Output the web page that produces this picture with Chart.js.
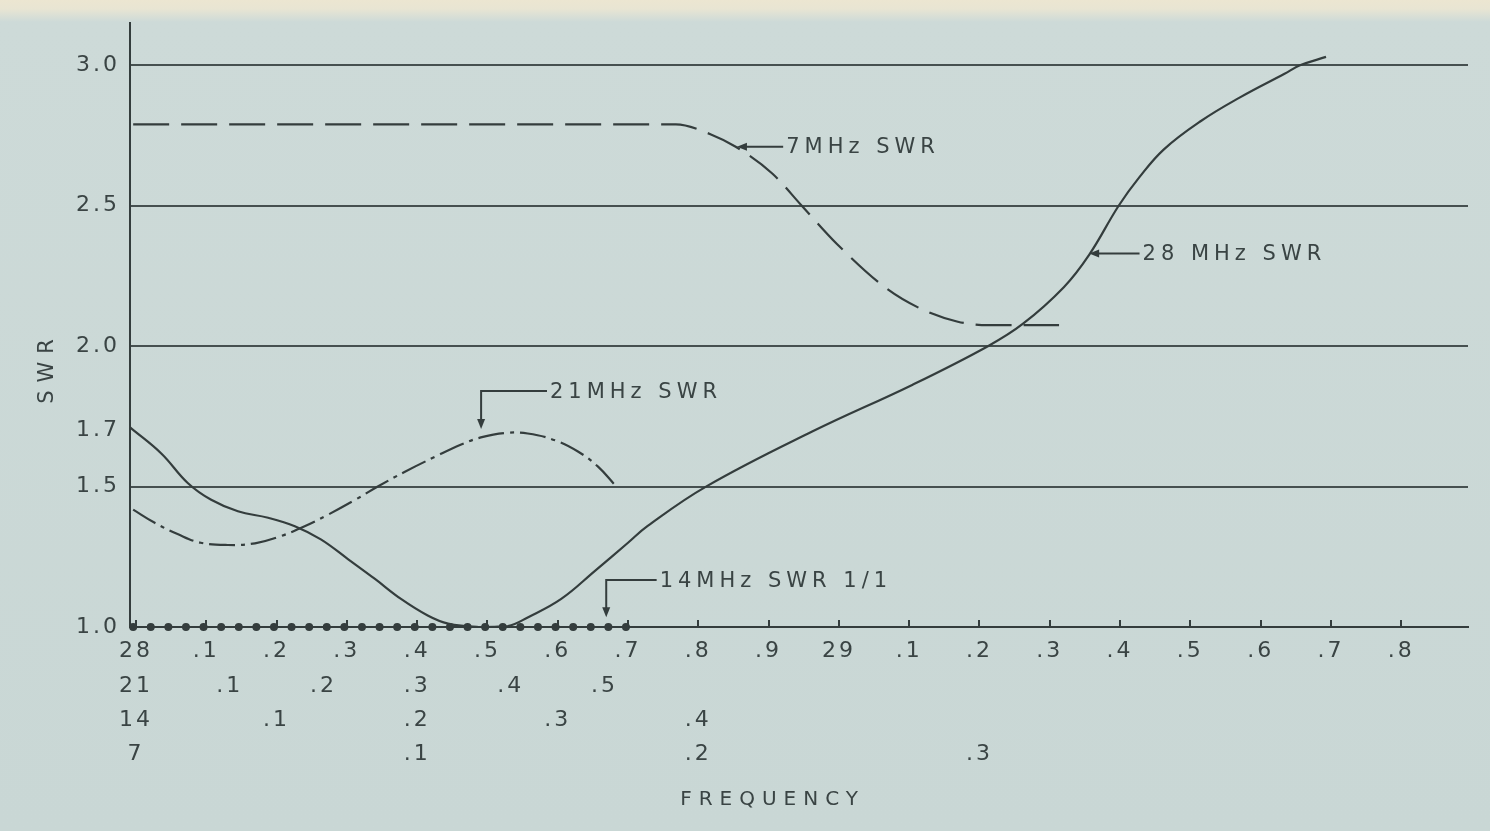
<!DOCTYPE html>
<html>
<head>
<meta charset="utf-8">
<script src="https://cdn.jsdelivr.net/npm/chart.js@4.4.1/dist/chart.umd.min.js"></script>
<style>
  html, body { margin: 0; padding: 0; }
  body {
    width: 1490px; height: 831px; overflow: hidden;
    background: linear-gradient(to bottom, #ece6d1 0px, #e8e5d3 9px, #cddad8 22px, #c9d7d5 100%);
  }
</style>
</head>
<body>
<canvas id="swrChart" width="1490" height="831"></canvas>
<script>
// SWR axis
const swrTicks = [1.0, 1.5, 1.7, 2.0, 2.5, 3.0];
const swrGrid = [1.5, 2.0, 2.5, 3.0];

// frequency rows under the plot (one row per band)
const row28Freq = [28.0, 28.1, 28.2, 28.3, 28.4, 28.5, 28.6, 28.7, 28.8, 28.9, 29.0, 29.1, 29.2, 29.3, 29.4, 29.5, 29.6, 29.7, 29.8];
const row28Labels = ['28', '.1', '.2', '.3', '.4', '.5', '.6', '.7', '.8', '.9', '29', '.1', '.2', '.3', '.4', '.5', '.6', '.7', '.8'];
const row21Freq = [21.0, 21.1, 21.2, 21.3, 21.4, 21.5];
const row21Labels = ['21', '.1', '.2', '.3', '.4', '.5'];
const row14Freq = [14.0, 14.1, 14.2, 14.3, 14.4];
const row14Labels = ['14', '.1', '.2', '.3', '.4'];
const row7Freq = [7.0, 7.1, 7.2, 7.3];
const row7Labels = ['7', '.1', '.2', '.3'];

// 28 MHz SWR (solid)
const swr28Freq = [27.992, 28.036, 28.074, 28.107, 28.145, 28.188, 28.226, 28.263, 28.302, 28.340, 28.377, 28.415, 28.444, 28.487, 28.529, 28.558, 28.605, 28.653, 28.700, 28.728, 28.811, 28.962, 29.105, 29.212, 29.262, 29.320, 29.356, 29.398, 29.427, 29.462, 29.514, 29.570, 29.634, 29.656, 29.693];
const swr28 = [1.71, 1.618, 1.512, 1.453, 1.412, 1.389, 1.359, 1.312, 1.241, 1.171, 1.10, 1.041, 1.012, 1.0, 1.003, 1.035, 1.10, 1.20, 1.30, 1.36, 1.50, 1.696, 1.863, 2.00, 2.08, 2.21, 2.325, 2.50, 2.60, 2.70, 2.80, 2.885, 2.97, 3.00, 3.03];

// 21 MHz SWR (dash-dot)
const swr21Freq = [20.997, 21.020, 21.045, 21.069, 21.098, 21.127, 21.155, 21.180, 21.205, 21.234, 21.258, 21.287, 21.319, 21.347, 21.368, 21.394, 21.418, 21.447, 21.472, 21.493, 21.511];
const swr21 = [1.418, 1.371, 1.33, 1.30, 1.292, 1.298, 1.324, 1.359, 1.40, 1.453, 1.50, 1.553, 1.606, 1.65, 1.675, 1.691, 1.689, 1.665, 1.624, 1.571, 1.506];

// 14 MHz SWR 1/1 (dots)
const swr14Freq = [13.998, 14.349];
const swr14 = [1.0, 1.0];

// 7 MHz SWR (long dashes)
const swr7Freq = [6.999, 7.192, 7.2045, 7.2133, 7.2263, 7.2368, 7.2493, 7.267, 7.2798, 7.2923, 7.303, 7.3283];
const swr7 = [2.79, 2.79, 2.754, 2.71, 2.615, 2.50, 2.364, 2.205, 2.13, 2.087, 2.075, 2.075];

const ink = '#343d3d';
const gridInk = '#465050';
const textInk = '#3a4444';
const fontFamily = '"DejaVu Sans", "Liberation Sans", sans-serif';

// every band is drawn on the 28 MHz position scale: same fraction of the band
const toPos = (f, band) => 28 + (f - band) * (28 / band);
const points = (freqs, vals, band) => freqs.map((f, i) => ({ x: toPos(f, band), y: vals[i] }));

const xMin = 27.9915;
const xMax = 29.895;

const callouts = [
  { text: '7MHz SWR', at: [28.855, 2.71], label: [28.925, 2.71], elbow: false },
  { text: '28 MHz SWR', at: [29.356, 2.33], label: [29.432, 2.33], elbow: false },
  { text: '21MHz SWR', at: [28.491, 1.705], label: [28.589, 1.84], elbow: true },
  { text: '14MHz SWR 1/1', at: [28.669, 1.035], label: [28.745, 1.167], elbow: true }
];

const drafting = {
  id: 'drafting',
  beforeDraw(chart) {
    chart.ctx.letterSpacing = '3px';
  },
  afterDraw(chart) {
    const { ctx, scales } = chart;
    const x = scales.x, y = scales.y;
    ctx.save();
    ctx.strokeStyle = ink;
    ctx.lineWidth = 2;
    ctx.font = '21px ' + fontFamily;
    ctx.letterSpacing = '5px';
    ctx.textBaseline = 'middle';
    ctx.textAlign = 'left';
    callouts.forEach(c => {
      const ax = x.getPixelForValue(c.at[0]);
      const ay = y.getPixelForValue(c.at[1]);
      const lx = x.getPixelForValue(c.label[0]);
      const ly = y.getPixelForValue(c.label[1]);
      ctx.fillStyle = ink;
      ctx.beginPath();
      if (c.elbow) {
        ctx.moveTo(lx - 3, ly);
        ctx.lineTo(ax, ly);
        ctx.lineTo(ax, ay - 6);
        ctx.stroke();
        ctx.beginPath();
        ctx.moveTo(ax, ay);
        ctx.lineTo(ax - 4, ay - 10);
        ctx.lineTo(ax + 4, ay - 10);
      } else {
        ctx.moveTo(lx - 3, ly);
        ctx.lineTo(ax + 6, ay);
        ctx.stroke();
        ctx.beginPath();
        ctx.moveTo(ax, ay);
        ctx.lineTo(ax + 10, ay - 4);
        ctx.lineTo(ax + 10, ay + 4);
      }
      ctx.closePath();
      ctx.fill();
      ctx.fillStyle = textInk;
      ctx.fillText(c.text, lx, ly + 1);
    });

    // axis captions
    ctx.textAlign = 'center';
    ctx.font = '20px ' + fontFamily;
    ctx.letterSpacing = '7px';
    ctx.fillText('FREQUENCY', x.getPixelForValue(28.9) + 4, scales.x7.top + 69);
    ctx.translate(48, y.getPixelForValue(1.91));
    ctx.rotate(-Math.PI / 2);
    ctx.font = '21px ' + fontFamily;
    ctx.letterSpacing = '8px';
    ctx.fillText('SWR', 4, 0);
    ctx.restore();
  }
};

const bandAxis = (freqs, labels, band, weight, padding, height) => ({
  type: 'linear',
  position: 'bottom',
  weight: weight,
  min: xMin,
  max: xMax,
  grid: { display: false, drawTicks: false },
  border: { display: false },
  afterBuildTicks: s => { s.ticks = freqs.map(f => ({ value: toPos(f, band) })); },
  afterFit: s => { s.height = height; },
  ticks: {
    autoSkip: false,
    maxRotation: 0,
    padding: padding,
    color: textInk,
    font: { family: fontFamily, size: 22 },
    callback: (v, i) => labels[i]
  }
});

new Chart(document.getElementById('swrChart'), {
  type: 'line',
  data: {
    datasets: [
      {
        label: '28 MHz SWR',
        data: points(swr28Freq, swr28, 28),
        borderColor: ink,
        borderWidth: 2.2,
        tension: 0.4,
        pointRadius: 0,
        clip: false
      },
      {
        label: '21MHz SWR',
        data: points(swr21Freq, swr21, 21),
        borderColor: ink,
        borderWidth: 2.2,
        borderDash: [26, 6, 4, 6],
        tension: 0.4,
        pointRadius: 0,
        clip: false
      },
      {
        label: '7MHz SWR',
        data: points(swr7Freq, swr7, 7),
        borderColor: ink,
        borderWidth: 2.2,
        borderDash: [36, 12],
        cubicInterpolationMode: 'monotone',
        pointRadius: 0,
        clip: false
      },
      {
        label: '14MHz SWR 1/1',
        data: points(swr14Freq, swr14, 14),
        borderColor: ink,
        borderWidth: 8,
        borderDash: [0, 17.6],
        borderCapStyle: 'round',
        pointRadius: 0,
        clip: false
      }
    ]
  },
  options: {
    responsive: false,
    animation: false,
    events: [],
    layout: { padding: { top: 22, right: 22, left: 0, bottom: 0 } },
    plugins: {
      legend: { display: false },
      tooltip: { enabled: false }
    },
    scales: {
      x: {
        type: 'linear',
        position: 'bottom',
        weight: 0,
        min: xMin,
        max: xMax,
        grid: {
          drawOnChartArea: false,
          drawTicks: true,
          tickLength: -7,
          color: ink,
          lineWidth: 2
        },
        border: { display: true, color: ink, width: 2 },
        afterBuildTicks: s => { s.ticks = row28Freq.map(f => ({ value: f })); },
        afterFit: s => { s.height = 36; },
        ticks: {
          autoSkip: false,
          maxRotation: 0,
          padding: 18,
          color: textInk,
          font: { family: fontFamily, size: 22 },
          callback: (v, i) => row28Labels[i]
        }
      },
      x21: bandAxis(row21Freq, row21Labels, 21, 1, 10, 34),
      x14: bandAxis(row14Freq, row14Labels, 14, 2, 10, 34),
      x7: bandAxis(row7Freq, row7Labels, 7, 3, 10, 100),
      y: {
        type: 'linear',
        position: 'left',
        min: 1.0,
        max: 3.15,
        afterBuildTicks: s => { s.ticks = swrTicks.map(v => ({ value: v })); },
        afterFit: s => { s.width = 130; },
        grid: {
          drawTicks: false,
          lineWidth: 2,
          color: c => swrGrid.includes(c.tick.value) ? gridInk : 'rgba(0,0,0,0)'
        },
        border: { display: true, color: ink, width: 2 },
        ticks: {
          padding: 10,
          color: textInk,
          font: { family: fontFamily, size: 22 },
          callback: v => v.toFixed(1)
        }
      }
    }
  },
  plugins: [drafting]
});
</script>
</body>
</html>
